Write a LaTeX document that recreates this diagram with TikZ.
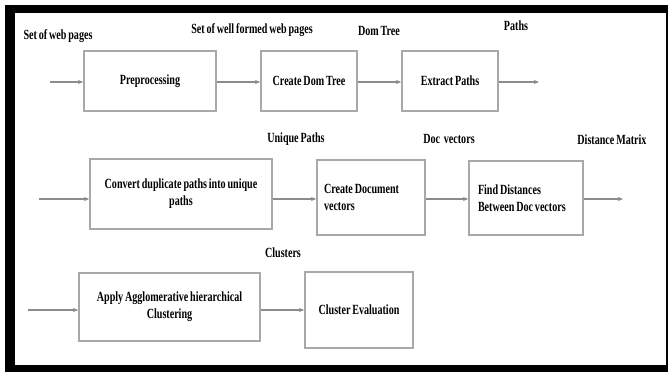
\documentclass[tikz,border=0pt]{standalone}
\usepackage{fontspec}
\setmainfont{Liberation Serif}[FakeStretch=0.72, WordSpace=0.75]
\usetikzlibrary{arrows.meta,positioning}
\tikzset{
  txt/.style={font=\fontsize{10.5pt}{12.75pt}\selectfont\bfseries, text=black, inner sep=0pt},
  box/.style={txt, draw=boxgray, line width=1.2pt, fill=white},
  conn/.style={draw=arrgray, line width=0.8pt, -{Stealth[length=4pt,width=3.2pt]}},
}
\definecolor{boxgray}{HTML}{A8A8A8}
\definecolor{arrgray}{HTML}{8C8C8C}
\begin{document}
\begin{tikzpicture}[x=0.75pt,y=-0.75pt]
\useasboundingbox (0,0) rectangle (668,372);
\fill[white] (0,0) rectangle (668,372);
\fill[black] (5,5) rectangle (668,372);
\fill[white] (15,13) rectangle (666,365);

% row 1
\node[box, minimum width=132*0.75pt, minimum height=60*0.75pt] (pre) at (150,81) {Preprocessing};
\node[box, minimum width=96*0.75pt, minimum height=60*0.75pt] (dom) at (309,81) {Create Dom Tree};
\node[box, minimum width=96*0.75pt, minimum height=60*0.75pt] (ext) at (450,81) {Extract Paths};
\coordinate (r1) at (0,82);
\coordinate (in1) at (50,82);
\coordinate (out1) at (539,82);
\draw[conn] (in1) -- (pre.west |- r1);
\draw[conn] (pre.east |- r1) -- (dom.west |- r1);
\draw[conn] (dom.east |- r1) -- (ext.west |- r1);
\draw[conn] (ext.east |- r1) -- (out1);

\node[txt] (l1) at (58,36) {Set of web pages};
\node[txt] (l2) at (252,30) {Set of well formed web pages};
\node[txt] (l3) at (379,31) {Dom Tree};
\node[txt] (l4) at (516,26) {Paths};

% row 2
\node[box, align=center, minimum width=182*0.75pt, minimum height=70*0.75pt] (conv) at (181,194) {Convert duplicate paths into unique\\paths};
\node[box, align=flush left, text width=94*0.75pt, inner xsep=7*0.75pt, minimum height=75*0.75pt] (cd) at (371,197.5) {Create Document\\vectors};
\node[box, align=flush left, text width=96*0.75pt, inner xsep=9*0.75pt, minimum height=74*0.75pt] (fd) at (526,198) {Find Distances\\Between Doc vectors};
\coordinate (r2) at (0,199);
\coordinate (in2) at (39,199);
\coordinate (out2) at (623,199);
\draw[conn] (in2) -- (conv.west |- r2);
\draw[conn] (conv.east |- r2) -- (cd.west |- r2);
\draw[conn] (cd.east |- r2) -- (fd.west |- r2);
\draw[conn] (fd.east |- r2) -- (out2);

\node[txt] (l5) at (296,139) {Unique Paths};
\node[txt] (l6) at (449,139) {Doc\ \ vectors};
\node[txt] (l7) at (612,140) {Distance Matrix};

% row 3
\node[box, align=center, minimum width=181*0.75pt, minimum height=68*0.75pt] (agg) at (169.5,307) {Apply Agglomerative hierarchical\\Clustering};
\node[box, minimum width=108*0.75pt, minimum height=76*0.75pt] (ce) at (359,310) {Cluster Evaluation};
\coordinate (r3) at (0,310);
\coordinate (in3) at (28,310);
\draw[conn] (in3) -- (agg.west |- r3);
\draw[conn] (agg.east |- r3) -- (ce.west |- r3);

\node[txt] (l8) at (283,253) {Clusters};
\end{tikzpicture}
\end{document}
